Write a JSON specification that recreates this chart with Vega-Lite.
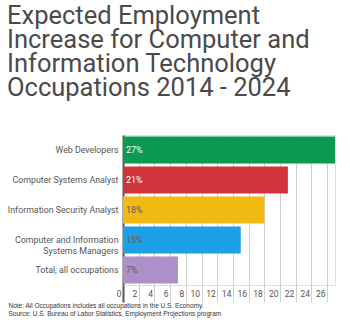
{
  "$schema": "https://vega.github.io/schema/vega-lite/v6.json",
  "autosize": "none",
  "padding": {"left": 123, "top": 135, "right": 15, "bottom": 37},
  "width": 212,
  "height": 150,
  "background": "white",
  "title": {
    "text": ["Expected Employment", "Increase for Computer and", "Information Technology", "Occupations 2014 - 2024"],
    "anchor": "start",
    "frame": "group",
    "dx": -116,
    "fontSize": 25.5,
    "lineHeight": 24,
    "font": "Roboto",
    "fontWeight": "normal",
    "color": "#4a4a4a",
    "baseline": "bottom",
    "offset": 9
  },
  "data": {
    "values": [
      {"occupation": "Web Developers", "value": 27, "label": "27%"},
      {"occupation": "Computer Systems Analyst", "value": 21, "label": "21%"},
      {"occupation": "Information Security Analyst", "value": 18, "label": "18%"},
      {"occupation": "Computer and Information|Systems Managers", "value": 15, "label": "15%"},
      {"occupation": "Total, all occupations", "value": 7, "label": "7%"}
    ]
  },
  "encoding": {
    "y": {
      "field": "occupation",
      "type": "nominal",
      "sort": null,
      "scale": {"paddingInner": 0.1, "paddingOuter": 0.05},
      "axis": {
        "title": null,
        "domain": false,
        "ticks": false,
        "labelPadding": 5,
        "labelFont": "Roboto",
        "labelFontSize": 8.8,
        "labelColor": "#555555",
        "labelLimit": 200,
        "labelLineHeight": 11,
        "labelExpr": "split(datum.label, '|')"
      }
    }
  },
  "resolve": {"axis": {"x": "independent"}},
  "layer": [
    {
      "mark": {"type": "bar"},
      "encoding": {
        "x": {
          "field": "value",
          "type": "quantitative",
          "scale": {"domain": [0, 27], "nice": false},
          "axis": {
            "values": [0, 2, 4, 6, 8, 10, 12, 14, 16, 18, 20, 22, 24, 26],
            "domain": false,
            "grid": true,
            "gridColor": {"condition": {"test": "datum.value === 0", "value": "#555555"}, "value": "#d0d0d0"},
            "gridWidth": {"condition": {"test": "datum.value === 0", "value": 2}, "value": 1},
            "tickColor": {"condition": {"test": "datum.value === 0", "value": "#555555"}, "value": "#d0d0d0"},
            "tickWidth": {"condition": {"test": "datum.value === 0", "value": 2}, "value": 1},
            "tickSize": 17,
            "labelPadding": -13,
            "labelAlign": "right",
            "labelBaseline": "top",
            "labelOffset": -2,
            "labelFlush": false,
            "labelOverlap": false,
            "labelFont": "Roboto",
            "labelFontSize": 8.5,
            "labelColor": "#555555",
            "title": ["Note: All Occupations includes all occupations in the U.S. Economy.", "Source: U.S. Bureau of Labor Statistics, Employment Projections program"],
            "titleAnchor": "start",
            "titleAlign": "left",
            "titleBaseline": "top",
            "titleX": -115,
            "titleY": 17.5,
            "titleFont": "Liberation Sans",
            "titleFontSize": 6.5,
            "titleFontWeight": "normal",
            "titleLineHeight": 8,
            "titleColor": "#333333"
          }
        },
        "color": {
          "field": "occupation",
          "type": "nominal",
          "scale": {
            "domain": ["Web Developers", "Computer Systems Analyst", "Information Security Analyst", "Computer and Information|Systems Managers", "Total, all occupations"],
            "range": ["#0b9a4f", "#cf343b", "#f1ba12", "#1da0e8", "#ad90c8"]
          },
          "legend": null
        }
      }
    },
    {
      "mark": {"type": "text", "align": "left", "baseline": "middle", "dx": 3, "font": "Roboto", "fontSize": 9},
      "encoding": {
        "x": {"datum": 0, "type": "quantitative", "axis": null},
        "text": {"field": "label"},
        "color": {"condition": {"test": "datum.value > 20", "value": "white"}, "value": "#5a5a5a"}
      }
    }
  ]
}
